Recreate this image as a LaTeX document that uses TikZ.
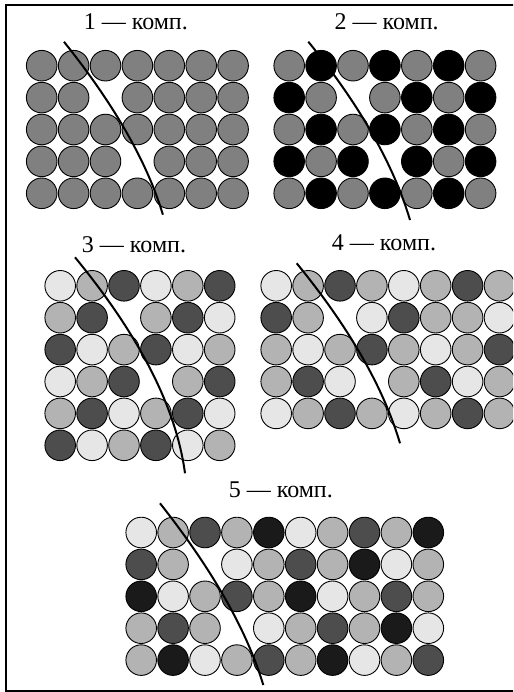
\documentclass[tikz,border=0pt]{standalone}
\usepackage{fontspec}
\setmainfont{Liberation Serif}
\usetikzlibrary{calc}
\definecolor{cG}{gray}{0.5}
\definecolor{cL}{HTML}{E6E6E6}
\definecolor{cM}{HTML}{B3B3B3}
\definecolor{cD}{HTML}{4D4D4D}
\definecolor{cK}{HTML}{1A1A1A}
\tikzset{
  ball/.style={circle,draw=black,line width=0.9pt,minimum size=30.6pt,inner sep=0pt},
  G/.style={fill=cG}, B/.style={fill=black}, L/.style={fill=cL},
  M/.style={fill=cM}, D/.style={fill=cD}, K/.style={fill=cK},
  ttl/.style={font=\fontsize{24}{28}\selectfont, anchor=base, inner sep=0pt},
  cut/.style={line width=2pt},
  frame/.style={line width=2pt}
}
\def\skipcode{X}
\newcommand\drawpanel[4]{%
  \foreach \row [count=\j from 0] in {#4} {
    \foreach \c [count=\k from 0] in \row {
      \edef\tmp{\c}%
      \ifx\tmp\skipcode\else
        \node[ball,\c] (#1-\j-\k) at ({#2+31.9*\k},{#3+31.9*\j}) {};
      \fi
    }
  }
}
\begin{document}
\begin{tikzpicture}[x=1pt,y=-1pt]
\clip (0,0) rectangle (513,692);
\draw[frame] (6.3,5.3) rectangle (530,691);

% titles
\node[ttl] (t1) at (135.8,30) {1 — комп.};
\node[ttl] (t2) at (386.7,29.5) {2 — комп.};
\node[ttl] (t3) at (134,253) {3 — комп.};
\node[ttl] (t4) at (384,251) {4 — комп.};
\node[ttl] (t5) at (280.8,497) {5 — комп.};

% panels
\drawpanel{p1}{41.7}{65.7}{{G,G,G,G,G,G,G},{G,G,X,G,G,G,G},{G,G,G,G,G,G,G},{G,G,G,X,G,G,G},{G,G,G,G,G,G,G}}
\drawpanel{p2}{289.2}{65.7}{{G,B,G,B,G,B,G},{B,G,X,G,B,G,B},{G,B,G,B,G,B,G},{B,G,B,X,B,G,B},{G,B,G,B,G,B,G}}
\drawpanel{p3}{60.2}{285.8}{{L,M,D,L,M,D},{M,D,X,M,D,L},{D,L,M,D,L,M},{L,M,D,X,M,D},{M,D,L,M,D,L},{D,L,M,D,L,M}}
\drawpanel{p4}{276.2}{285.8}{{L,M,D,M,L,M,D,M},{D,M,X,L,D,M,M,L},{M,L,M,D,M,L,M,D},{M,D,L,X,M,D,L,M},{L,M,D,M,L,M,D,M}}
\drawpanel{p5}{141.2}{532.5}{{L,M,D,M,K,L,M,D,M,K},{D,M,X,L,M,D,M,K,L,M},{K,L,M,D,M,K,L,M,D,M},{M,D,M,X,L,M,D,M,K,L},{M,K,L,M,D,M,K,L,M,D}}

% cut curves
\coordinate (s1) at (64.0,41.8);  \coordinate (k1) at (139.3,135.9); \coordinate (e1) at (162.9,214.7);
\coordinate (s2) at (308.3,41.7); \coordinate (k2) at (384.9,135.9); \coordinate (e2) at (410,220);
\coordinate (s3) at (75,257.3);   \coordinate (k3) at (171.9,375.1); \coordinate (e3) at (185,473.3);
\coordinate (s4) at (296.7,263.3);\coordinate (k4) at (375.1,359.2); \coordinate (e4) at (400,443.3);
\coordinate (s5) at (160,503.3);  \coordinate (k5) at (238.5,602.7); \coordinate (e5) at (263.3,685);
\foreach \i in {1,...,5}{
  \draw[cut] (s\i) .. controls ($(s\i)!0.6667!(k\i)$) and ($(e\i)!0.6667!(k\i)$) .. (e\i);
}
\end{tikzpicture}
\end{document}
